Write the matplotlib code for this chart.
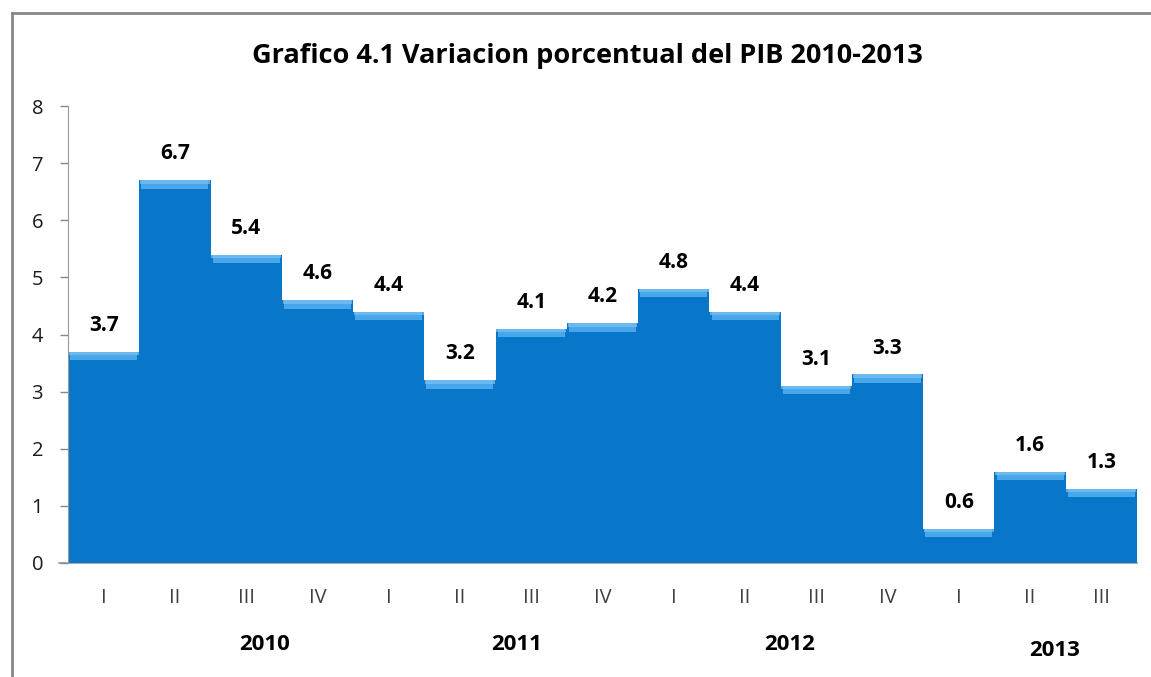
import matplotlib.pyplot as plt
import matplotlib.transforms as mtransforms
from matplotlib.lines import Line2D
import numpy as np

plt.rcParams['font.family'] = ['Open Sans', 'DejaVu Sans']

quarters = ['I', 'II', 'III', 'IV', 'I', 'II', 'III', 'IV',
            'I', 'II', 'III', 'IV', 'I', 'II', 'III']
values = [3.7, 6.7, 5.4, 4.6, 4.4, 3.2, 4.1, 4.2,
          4.8, 4.4, 3.1, 3.3, 0.6, 1.6, 1.3]
years = ['2010', '2011', '2012', '2013']
year_x = [2.26, 5.80, 9.63, 13.35]
year_y = [-0.179, -0.179, -0.179, -0.192]

BLUE = '#0876c9'
LIGHT = '#48a6ea'


def main():
    fig = plt.figure(figsize=(11.51, 6.77), dpi=100)
    ax = fig.add_axes([0.0591, 0.1684, 0.9287, 0.675])

    x = np.arange(len(values))
    tops = np.array(values)
    ax.bar(x, values, width=1.0, color=BLUE, edgecolor='none', zorder=2)
    # bevel highlight on top of each step
    ax.bar(x, [0.15] * len(values), bottom=tops - 0.15, width=0.94,
           color=LIGHT, edgecolor='none', zorder=3)
    ax.bar(x, [0.06] * len(values), bottom=tops - 0.06, width=0.98,
           color='#7cc2f2', edgecolor='none', zorder=3, alpha=0.7)

    for xi, v in zip(x, values):
        ax.annotate(f'{v:.1f}', (xi, v), xytext=(0, 19), textcoords='offset points',
                    ha='center', va='center', fontsize=15, fontweight='bold',
                    color='black')

    ax.set_xlim(-0.5, len(values) - 0.5)
    ax.set_ylim(0, 8)
    ax.set_yticks(range(0, 9))
    ax.set_xticks(x)
    ax.set_xticklabels(quarters)
    ax.tick_params(axis='x', length=0, pad=18, labelsize=14.5, labelcolor='#404040')
    ax.tick_params(axis='y', direction='out', length=6, width=1, color='#888888',
                   pad=12, labelsize=14.5, labelcolor='#1a1a1a')
    for s in ['top', 'right']:
        ax.spines[s].set_visible(False)
    ax.spines['left'].set_color('#999999')
    ax.spines['bottom'].set_visible(False)
    ax.plot([-0.63, len(values) - 0.5], [0, 0], color='#999999', lw=1.2,
            clip_on=False, zorder=1)

    trans = mtransforms.blended_transform_factory(ax.transData, ax.transAxes)
    for yr, xx, yy in zip(years, year_x, year_y):
        ax.text(xx, yy, yr, transform=trans, ha='center', va='center',
                fontsize=16, fontweight='bold', color='black')

    fig.text(0.51, 0.918, 'Grafico 4.1 Variacion porcentual del PIB 2010-2013',
             ha='center', va='center', fontsize=19.5, fontweight='bold')

    # outer chart frame (top and left visible)
    fig.add_artist(Line2D([12 / 1151, 1.0], [1 - 13 / 677, 1 - 13 / 677],
                          transform=fig.transFigure, color='#888888', lw=2))
    fig.add_artist(Line2D([12 / 1151, 12 / 1151], [0.0, 1 - 13 / 677],
                          transform=fig.transFigure, color='#888888', lw=2))

    fig.savefig('out.png', dpi=100)


if __name__ == '__main__':
    main()
